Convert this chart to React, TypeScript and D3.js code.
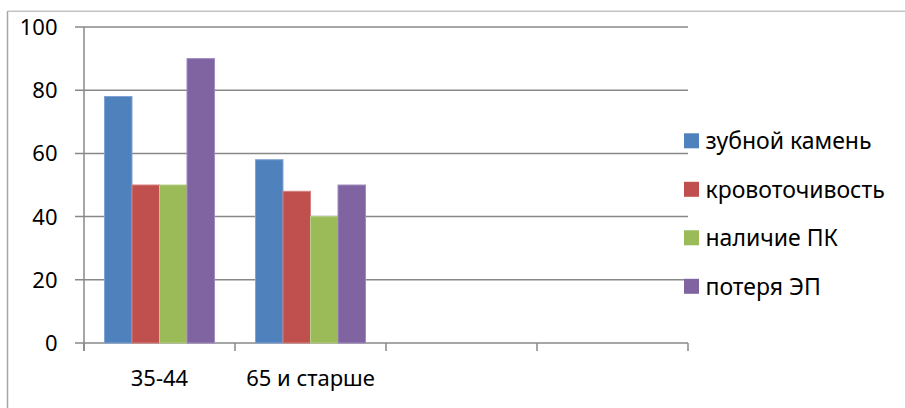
import React from "react";
import * as d3 from "d3";

const categories: string[] = ["35-44", "65 и старше", "", ""];
const seriesNames: string[] = ["зубной камень", "кровоточивость", "наличие ПК", "потеря ЭП"];
const seriesColors: string[] = ["#4F81BD", "#C0504D", "#9BBB59", "#8064A2"];
const seriesStroke: string[] = ["#7FA3D3", "#D5807E", "#B9D08A", "#A18BC0"];
const zubnoy: number[] = [78, 58];
const krov: number[] = [50, 48];
const nalichie: number[] = [50, 40];
const poterya: number[] = [90, 50];
const yTicks: number[] = [0, 20, 40, 60, 80, 100];

const seriesValues: number[][] = [zubnoy, krov, nalichie, poterya];

const W = 905;
const H = 408;
const FONT = "'Noto Sans', 'Open Sans', sans-serif";

export default function App() {
  const x = d3.scaleBand<number>().domain(d3.range(categories.length)).range([84, 688]).paddingInner(0).paddingOuter(0);
  const xs = d3.scaleBand<number>().domain(d3.range(seriesNames.length)).range([0, x.bandwidth()]).paddingInner(0).paddingOuter(0.745);
  const y = d3.scaleLinear().domain([0, 100]).range([343, 27]);
  const legendY = d3.scaleLinear().domain([0, 3]).range([140.8, 286.3]);
  const grid = "#888888";
  const boundaries = d3.range(categories.length + 1).map((i) => (i < categories.length ? x(i)! : x(categories.length - 1)! + x.bandwidth()));

  return (
    <svg width={W} height={H} style={{ position: "absolute", left: 0, top: 0, background: "#fff" }} fontFamily={FONT}>
      <rect x={0} y={0} width={W} height={H} fill="#fff" />
      <line x1={7.5} x2={7.5} y1={11} y2={H} stroke="#a6a6a6" strokeWidth={1.5} />
      <line x1={7.5} x2={W} y1={11.3} y2={11.3} stroke="#c4c4c4" strokeWidth={1.5} />
      {yTicks.map((t) => (
        <g key={t}>
          <line x1={75} x2={688} y1={y(t)} y2={y(t)} stroke={grid} strokeWidth={1.5} />
          <text x={57.5} y={y(t)} dy="0.36em" textAnchor="end" fontSize={22} fill="#000">
            {t}
          </text>
        </g>
      ))}
      <line x1={84} x2={84} y1={y(100)} y2={y(0) + 8} stroke={grid} strokeWidth={1.5} />
      {boundaries.map((b, i) => (
        <line key={i} x1={b} x2={b} y1={y(0)} y2={y(0) + 8} stroke={grid} strokeWidth={1.5} />
      ))}
      {seriesValues.map((vals, s) =>
        vals.map((v, c) => (
          <rect
            key={`${s}-${c}`}
            x={x(c)! + xs(s)!}
            y={y(v)}
            width={xs.bandwidth()}
            height={y(0) - y(v)}
            fill={seriesColors[s]}
            stroke={seriesStroke[s]}
            strokeWidth={1}
          />
        ))
      )}
      {categories.map((c, i) => (
        <text key={i} x={x(i)! + x.bandwidth() / 2} y={386} textAnchor="middle" fontSize={22} fill="#000">
          {c}
        </text>
      ))}
      {seriesNames.map((n, i) => (
        <g key={n}>
          <rect x={684} y={legendY(i) - 7.5} width={15} height={15} fill={seriesColors[i]} />
          <text x={705.5} y={legendY(i)} dy="0.36em" fontSize={23} fill="#000">
            {n}
          </text>
        </g>
      ))}
    </svg>
  );
}
